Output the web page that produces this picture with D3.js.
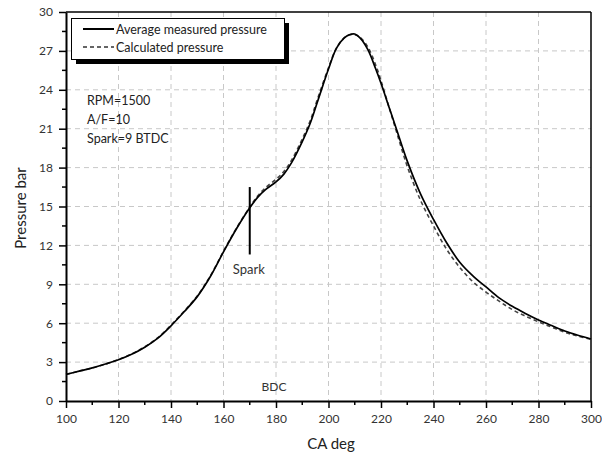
<!DOCTYPE html>
<html>
<head>
<meta charset="utf-8">
<script src="https://cdn.jsdelivr.net/npm/d3@7"></script>
<style>
  html, body { margin: 0; padding: 0; background: #fff; }
  svg { display: block; }
  text { font-family: Lato, "Open Sans", sans-serif; }
</style>
</head>
<body>
<svg id="chart" width="602" height="457"></svg>
<script>
// ---- data ----
const crankAngle = [100,105,110,115,120,125,130,135,140,145,150,155,160,165,170,173,176,180,183,186,190,193,196,200,203,206,208,210,212,215,218,220,223,226,230,235,240,245,250,255,260,265,270,275,280,285,290,295,300];
const measuredPressure = [2.05,2.3,2.55,2.85,3.18,3.6,4.15,4.85,5.8,6.88,8.05,9.6,11.5,13.3,14.9,15.7,16.3,16.9,17.5,18.4,20.0,21.4,23.2,25.6,27.2,28.0,28.25,28.3,28.0,27.1,25.6,24.5,22.7,20.9,18.5,16.0,14.0,12.2,10.7,9.65,8.8,7.95,7.3,6.75,6.25,5.82,5.4,5.07,4.78];
const calculatedPressure = [2.05,2.3,2.55,2.85,3.2,3.62,4.18,4.88,5.85,6.93,8.1,9.65,11.55,13.35,14.95,15.8,16.45,17.1,17.7,18.6,20.2,21.6,23.4,25.7,27.2,28.0,28.25,28.25,28.05,27.3,25.9,24.7,22.7,20.7,18.1,15.5,13.5,11.7,10.3,9.2,8.4,7.7,7.05,6.55,6.1,5.7,5.3,5.0,4.75];
const xTicks = [100,120,140,160,180,200,220,240,260,280,300];
const yTicks = [0,3,6,9,12,15,18,21,24,27,30];
const seriesNames = ["Average measured pressure", "Calculated pressure"];
const conditions = ["RPM=1500", "A/F=10", "Spark=9 BTDC"];
const sparkAngle = 170;
const sparkRange = [11.3, 16.5];
const bdcAngle = 180;

// ---- layout ----
const svg = d3.select("#chart");
const L = 66, R = 591, T = 12, B = 401;
const x = d3.scaleLinear().domain([100, 300]).range([L, R]);
const y = d3.scaleLinear().domain([0, 30]).range([B, T]);

// grid
const grid = svg.append("g");
grid.selectAll("line.gx").data(xTicks.slice(1, -1)).join("line")
  .attr("x1", d => x(d)).attr("x2", d => x(d)).attr("y1", T).attr("y2", B)
  .attr("stroke", "#c8c8c8").attr("stroke-dasharray", "5,4").attr("stroke-width", 1);
grid.selectAll("line.gy").data(yTicks.slice(1, -1)).join("line")
  .attr("y1", d => y(d)).attr("y2", d => y(d)).attr("x1", L).attr("x2", R)
  .attr("stroke", "#c8c8c8").attr("stroke-dasharray", "5,4").attr("stroke-width", 1);

// frame top/right
svg.append("line").attr("x1", L).attr("x2", R).attr("y1", T).attr("y2", T).attr("stroke", "#000").attr("stroke-width", 1.5);
svg.append("line").attr("x1", R).attr("x2", R).attr("y1", T).attr("y2", B).attr("stroke", "#000").attr("stroke-width", 1.5);

// axes
const xMinor = d3.range(110, 300, 20);
const yMinor = d3.range(1.5, 30, 3);

const xAxis = svg.append("g").attr("transform", `translate(0,${B})`)
  .call(d3.axisBottom(x).tickValues(xTicks).tickFormat(d3.format("d")).tickSize(7).tickSizeOuter(0).tickPadding(6));
const yAxis = svg.append("g").attr("transform", `translate(${L},0)`)
  .call(d3.axisLeft(y).tickValues(yTicks).tickFormat(d3.format("d")).tickSize(7).tickSizeOuter(0).tickPadding(6));
[xAxis, yAxis].forEach(a => {
  a.select(".domain").attr("stroke", "#000").attr("stroke-width", 2);
  a.selectAll(".tick line").attr("stroke", "#000").attr("stroke-width", 1.5);
  a.selectAll(".tick text").attr("font-size", 12).attr("fill", "#333").attr("font-family", "Lato, sans-serif");
});
svg.append("g").selectAll("line").data(xMinor).join("line")
  .attr("x1", d => x(d)).attr("x2", d => x(d)).attr("y1", B).attr("y2", B + 4)
  .attr("stroke", "#000").attr("stroke-width", 1.5);
svg.append("g").selectAll("line").data(yMinor).join("line")
  .attr("y1", d => y(d)).attr("y2", d => y(d)).attr("x1", L).attr("x2", L - 4)
  .attr("stroke", "#000").attr("stroke-width", 1.5);

// axis titles
svg.append("text").attr("x", 331).attr("y", 449).attr("text-anchor", "middle")
  .attr("font-size", 15).attr("fill", "#222").text("CA deg");
svg.append("text").attr("transform", "translate(26,208) rotate(-90)").attr("text-anchor", "middle")
  .attr("font-size", 15).attr("fill", "#222").text("Pressure bar");

// lines
const line = (vals) => d3.line().x((d, i) => x(crankAngle[i])).y(d => y(d)).curve(d3.curveCatmullRom.alpha(0.5))(vals);
svg.append("path").attr("d", line(calculatedPressure)).attr("fill", "none")
  .attr("stroke", "#444").attr("stroke-width", 1.6).attr("stroke-dasharray", "4,3");
svg.append("path").attr("d", line(measuredPressure)).attr("fill", "none")
  .attr("stroke", "#000").attr("stroke-width", 1.7);

// spark marker
svg.append("line").attr("x1", x(sparkAngle)).attr("x2", x(sparkAngle))
  .attr("y1", y(sparkRange[0])).attr("y2", y(sparkRange[1])).attr("stroke", "#000").attr("stroke-width", 2);
svg.append("text").attr("x", x(sparkAngle) - 1).attr("y", 274).attr("text-anchor", "middle")
  .attr("font-size", 13).attr("fill", "#333").text("Spark");
svg.append("text").attr("x", x(bdcAngle) - 2).attr("y", 391).attr("text-anchor", "middle")
  .attr("font-size", 12).attr("fill", "#333").text("BDC");

// conditions
svg.append("g").selectAll("text").data(conditions).join("text")
  .attr("x", 87).attr("y", (d, i) => 105 + i * 19)
  .attr("font-size", 12.5).attr("fill", "#222").text(d => d);

// legend
const lg = svg.append("g");
lg.append("rect").attr("x", 76).attr("y", 23).attr("width", 213).attr("height", 41).attr("fill", "#000");
lg.append("rect").attr("x", 71.5).attr("y", 18.5).attr("width", 213).attr("height", 41)
  .attr("fill", "#fff").attr("stroke", "#000").attr("stroke-width", 1);
const legY = [29, 47];
lg.append("line").attr("x1", 83).attr("x2", 114).attr("y1", legY[0]).attr("y2", legY[0]).attr("stroke", "#000").attr("stroke-width", 2);
lg.append("line").attr("x1", 83).attr("x2", 114).attr("y1", legY[1]).attr("y2", legY[1]).attr("stroke", "#333").attr("stroke-width", 1.6).attr("stroke-dasharray", "4,3");
lg.selectAll("text").data(seriesNames).join("text")
  .attr("x", 116).attr("y", (d, i) => legY[i] + 4.5)
  .attr("font-size", 12.5).attr("fill", "#222").text(d => d);
</script>
</body>
</html>
